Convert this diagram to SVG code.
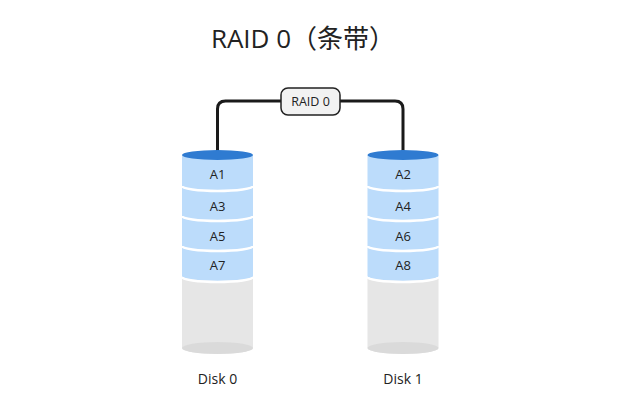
<svg xmlns="http://www.w3.org/2000/svg" width="629" height="405" viewBox="0 0 629 405">
<style>
.t{font-family:"Open Sans","Noto Sans","Noto Sans CJK SC",sans-serif;fill:#222}
.seg{fill:#bcdcfb}
.sep{fill:none;stroke:#fff;stroke-width:2.5}
.gray{fill:#e6e6e6}
.gb{fill:#dadada}
.top{fill:#2f7bd1}
.wire{fill:none;stroke:#1a1a1a;stroke-width:3}
</style>
<rect width="629" height="405" fill="#fff"/>
<text class="t" x="303" y="48" font-size="26" text-anchor="middle">RAID 0（条带）</text>
<g id="connectors">
<path class="wire" d="M217.5 155 V109 Q217.5 101 225.5 101 H281"/>
<path class="wire" d="M340 101 H395 Q403 101 403 109 V155"/>
</g>
<g id="raid">
<rect x="281" y="88" width="59" height="27" rx="7" fill="#f2f2f2" stroke="#222" stroke-width="1.5"/>
<text class="t" x="310.5" y="106" font-size="12.5" text-anchor="middle">RAID 0</text>
</g>
<g id="disk0">
<path class="gray" d="M182 278 V348 A35.5 6 0 0 0 253 348 V278 Z"/>
<ellipse class="gb" cx="217.5" cy="348" rx="35.5" ry="6"/>
<path class="seg" d="M182 155 V276 A35.5 5 0 0 0 253 276 V155 Z"/>
<path class="sep" d="M182 186 A35.5 5 0 0 0 253 186"/>
<path class="sep" d="M182 216 A35.5 5 0 0 0 253 216"/>
<path class="sep" d="M182 246 A35.5 5 0 0 0 253 246"/>
<path class="sep" d="M182 277 A35.5 5 0 0 0 253 277"/>
<ellipse class="top" cx="217.5" cy="155" rx="35.5" ry="5"/>
<text class="t" x="217.5" y="179" font-size="13" text-anchor="middle">A1</text>
<text class="t" x="217.5" y="211" font-size="13" text-anchor="middle">A3</text>
<text class="t" x="217.5" y="241" font-size="13" text-anchor="middle">A5</text>
<text class="t" x="217.5" y="270" font-size="13" text-anchor="middle">A7</text>
<text class="t" x="217.5" y="384" font-size="14" text-anchor="middle">Disk 0</text>
</g>
<g id="disk1">
<path class="gray" d="M367.5 278 V348 A35.5 6 0 0 0 438.5 348 V278 Z"/>
<ellipse class="gb" cx="403" cy="348" rx="35.5" ry="6"/>
<path class="seg" d="M367.5 155 V276 A35.5 5 0 0 0 438.5 276 V155 Z"/>
<path class="sep" d="M367.5 186 A35.5 5 0 0 0 438.5 186"/>
<path class="sep" d="M367.5 216 A35.5 5 0 0 0 438.5 216"/>
<path class="sep" d="M367.5 246 A35.5 5 0 0 0 438.5 246"/>
<path class="sep" d="M367.5 277 A35.5 5 0 0 0 438.5 277"/>
<ellipse class="top" cx="403" cy="155" rx="35.5" ry="5"/>
<text class="t" x="403" y="179" font-size="13" text-anchor="middle">A2</text>
<text class="t" x="403" y="211" font-size="13" text-anchor="middle">A4</text>
<text class="t" x="403" y="241" font-size="13" text-anchor="middle">A6</text>
<text class="t" x="403" y="270" font-size="13" text-anchor="middle">A8</text>
<text class="t" x="403" y="384" font-size="14" text-anchor="middle">Disk 1</text>
</g>
</svg>
